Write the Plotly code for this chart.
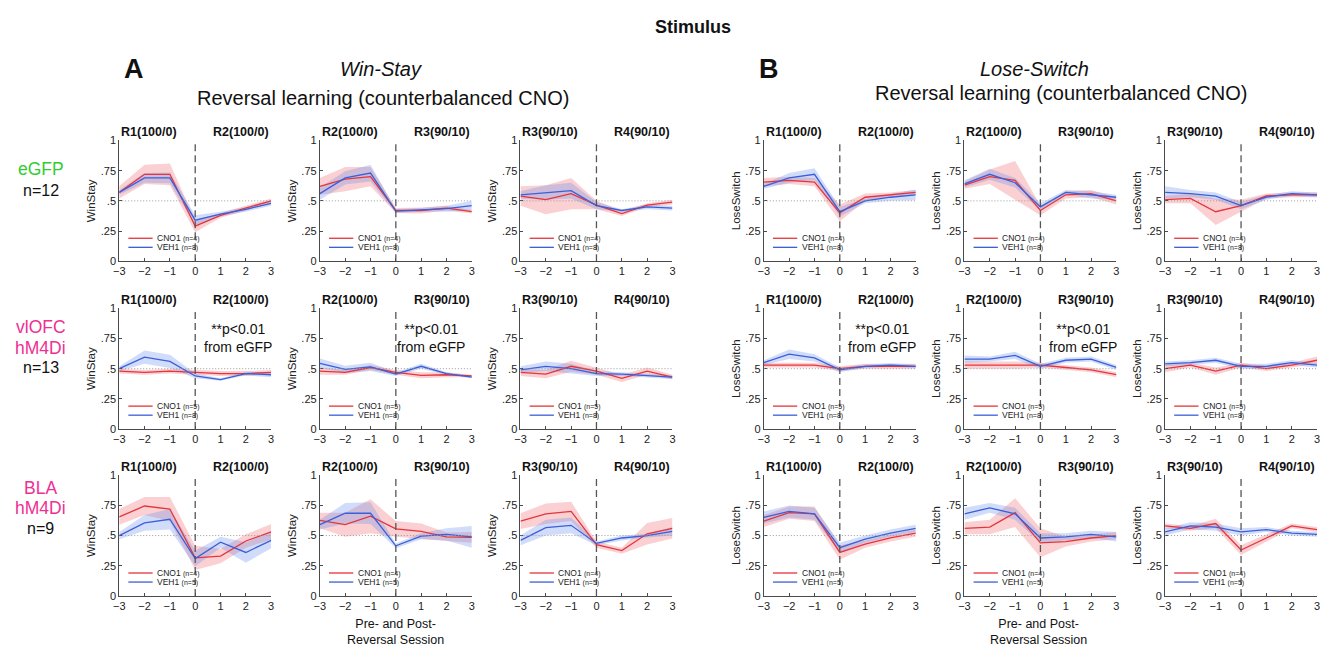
import plotly.graph_objects as go

# ---------------- data ----------------
SESSIONS = [-3, -2, -1, 0, 1, 2, 3]
Y_TICKS = [0, 0.25, 0.5, 0.75, 1]
Y_TICK_LABELS = ["0", ".25", ".5", ".75", "1"]
MEASURES = ["WinStay", "LoseSwitch"]
GROUP_LABELS = [["eGFP"], ["vlOFC", "hM4Di"], ["BLA", "hM4Di"]]
GROUP_N = [12, 13, 9]
CNO_N = [4, 5, 4]
VEH_N = [8, 8, 5]
TRANSITIONS = [("R1(100/0)", "R2(100/0)"), ("R2(100/0)", "R3(90/10)"), ("R3(90/10)", "R4(90/10)")]

# Win-Stay, each list holds the three reversal transitions
WS_EGFP_CNO = [[0.57, 0.72, 0.72, 0.29, 0.38, 0.44, 0.50],
               [0.62, 0.68, 0.70, 0.42, 0.42, 0.44, 0.41],
               [0.54, 0.51, 0.56, 0.465, 0.395, 0.465, 0.49]]
WS_EGFP_CNO_SEM = [[0.05, 0.08, 0.09, 0.05, 0.02, 0.02, 0.02],
                   [0.07, 0.10, 0.08, 0.02, 0.025, 0.02, 0.015],
                   [0.08, 0.12, 0.13, 0.035, 0.02, 0.015, 0.02]]
WS_EGFP_VEH = [[0.57, 0.69, 0.69, 0.34, 0.39, 0.43, 0.48],
               [0.56, 0.69, 0.73, 0.415, 0.425, 0.435, 0.46],
               [0.55, 0.57, 0.585, 0.46, 0.42, 0.45, 0.44]]
WS_EGFP_VEH_SEM = [[0.02, 0.04, 0.045, 0.04, 0.02, 0.02, 0.02],
                   [0.05, 0.055, 0.07, 0.015, 0.015, 0.025, 0.04],
                   [0.03, 0.06, 0.065, 0.03, 0.01, 0.02, 0.02]]

WS_VLOFC_CNO = [[0.48, 0.47, 0.48, 0.47, 0.46, 0.46, 0.47],
                [0.48, 0.47, 0.51, 0.47, 0.445, 0.45, 0.44],
                [0.47, 0.455, 0.52, 0.48, 0.42, 0.48, 0.43]]
WS_VLOFC_CNO_SEM = [[0.02, 0.02, 0.02, 0.02, 0.02, 0.02, 0.02],
                    [0.03, 0.02, 0.02, 0.02, 0.025, 0.02, 0.01],
                    [0.03, 0.035, 0.045, 0.03, 0.03, 0.03, 0.02]]
WS_VLOFC_VEH = [[0.50, 0.595, 0.56, 0.44, 0.41, 0.46, 0.45],
                [0.545, 0.495, 0.515, 0.455, 0.52, 0.46, 0.43],
                [0.49, 0.52, 0.50, 0.46, 0.455, 0.445, 0.43]]
WS_VLOFC_VEH_SEM = [[0.02, 0.055, 0.055, 0.02, 0.01, 0.015, 0.02],
                    [0.04, 0.03, 0.035, 0.015, 0.02, 0.01, 0.01],
                    [0.03, 0.04, 0.04, 0.02, 0.015, 0.015, 0.015]]

WS_BLA_CNO = [[0.655, 0.745, 0.72, 0.315, 0.33, 0.455, 0.53],
              [0.625, 0.59, 0.66, 0.555, 0.535, 0.49, 0.485],
              [0.62, 0.68, 0.70, 0.425, 0.375, 0.515, 0.56]]
WS_BLA_CNO_SEM = [[0.065, 0.075, 0.10, 0.10, 0.06, 0.055, 0.065],
                  [0.065, 0.10, 0.14, 0.065, 0.065, 0.035, 0.045],
                  [0.065, 0.085, 0.08, 0.025, 0.025, 0.09, 0.085]]
WS_BLA_VEH = [[0.50, 0.605, 0.635, 0.31, 0.445, 0.36, 0.46],
              [0.59, 0.685, 0.685, 0.415, 0.495, 0.51, 0.49],
              [0.46, 0.565, 0.585, 0.435, 0.48, 0.50, 0.535]]
WS_BLA_VEH_SEM = [[0.03, 0.065, 0.085, 0.065, 0.045, 0.085, 0.065],
                  [0.04, 0.085, 0.09, 0.02, 0.025, 0.05, 0.09],
                  [0.04, 0.065, 0.065, 0.015, 0.02, 0.015, 0.035]]

# Lose-Switch
LS_EGFP_CNO = [[0.655, 0.67, 0.655, 0.40, 0.53, 0.55, 0.57],
               [0.63, 0.70, 0.67, 0.42, 0.55, 0.56, 0.50],
               [0.51, 0.52, 0.41, 0.46, 0.54, 0.55, 0.55]]
LS_EGFP_CNO_SEM = [[0.035, 0.03, 0.035, 0.07, 0.03, 0.02, 0.02],
                   [0.03, 0.06, 0.16, 0.04, 0.03, 0.03, 0.03],
                   [0.03, 0.04, 0.11, 0.05, 0.02, 0.02, 0.02]]
LS_EGFP_VEH = [[0.62, 0.69, 0.72, 0.41, 0.50, 0.53, 0.55],
               [0.64, 0.72, 0.65, 0.45, 0.57, 0.55, 0.53],
               [0.57, 0.56, 0.54, 0.46, 0.53, 0.56, 0.55]]
LS_EGFP_VEH_SEM = [[0.02, 0.04, 0.05, 0.04, 0.02, 0.03, 0.045],
                   [0.03, 0.045, 0.04, 0.03, 0.02, 0.03, 0.02],
                   [0.05, 0.03, 0.03, 0.03, 0.02, 0.02, 0.02]]

LS_VLOFC_CNO = [[0.53, 0.53, 0.53, 0.50, 0.52, 0.52, 0.52],
                [0.53, 0.53, 0.53, 0.53, 0.51, 0.49, 0.45],
                [0.50, 0.53, 0.48, 0.53, 0.50, 0.53, 0.57]]
LS_VLOFC_CNO_SEM = [[0.02, 0.02, 0.02, 0.02, 0.02, 0.02, 0.02],
                    [0.03, 0.03, 0.03, 0.02, 0.02, 0.02, 0.02],
                    [0.03, 0.02, 0.03, 0.02, 0.02, 0.02, 0.03]]
LS_VLOFC_VEH = [[0.55, 0.62, 0.59, 0.49, 0.52, 0.53, 0.52],
                [0.58, 0.58, 0.61, 0.52, 0.57, 0.58, 0.51],
                [0.54, 0.55, 0.57, 0.52, 0.52, 0.55, 0.53]]
LS_VLOFC_VEH_SEM = [[0.02, 0.04, 0.03, 0.02, 0.015, 0.015, 0.015],
                    [0.03, 0.02, 0.03, 0.02, 0.02, 0.02, 0.02],
                    [0.02, 0.02, 0.02, 0.02, 0.02, 0.02, 0.02]]

LS_BLA_CNO = [[0.62, 0.69, 0.68, 0.36, 0.43, 0.48, 0.52],
              [0.56, 0.57, 0.69, 0.44, 0.45, 0.48, 0.50],
              [0.58, 0.56, 0.60, 0.38, 0.48, 0.58, 0.55]]
LS_BLA_CNO_SEM = [[0.05, 0.05, 0.06, 0.06, 0.03, 0.03, 0.03],
                  [0.05, 0.06, 0.12, 0.12, 0.04, 0.03, 0.03],
                  [0.02, 0.02, 0.04, 0.04, 0.03, 0.02, 0.02]]
LS_BLA_VEH = [[0.65, 0.70, 0.68, 0.40, 0.47, 0.52, 0.56],
              [0.68, 0.73, 0.68, 0.48, 0.49, 0.51, 0.49],
              [0.53, 0.58, 0.57, 0.53, 0.55, 0.52, 0.51]]
LS_BLA_VEH_SEM = [[0.05, 0.05, 0.05, 0.04, 0.03, 0.03, 0.03],
                  [0.05, 0.04, 0.05, 0.04, 0.03, 0.03, 0.04],
                  [0.03, 0.03, 0.03, 0.03, 0.02, 0.02, 0.02]]

DATA = {
    (0, 0): (WS_EGFP_CNO, WS_EGFP_CNO_SEM, WS_EGFP_VEH, WS_EGFP_VEH_SEM),
    (0, 1): (WS_VLOFC_CNO, WS_VLOFC_CNO_SEM, WS_VLOFC_VEH, WS_VLOFC_VEH_SEM),
    (0, 2): (WS_BLA_CNO, WS_BLA_CNO_SEM, WS_BLA_VEH, WS_BLA_VEH_SEM),
    (1, 0): (LS_EGFP_CNO, LS_EGFP_CNO_SEM, LS_EGFP_VEH, LS_EGFP_VEH_SEM),
    (1, 1): (LS_VLOFC_CNO, LS_VLOFC_CNO_SEM, LS_VLOFC_VEH, LS_VLOFC_VEH_SEM),
    (1, 2): (LS_BLA_CNO, LS_BLA_CNO_SEM, LS_BLA_VEH, LS_BLA_VEH_SEM),
}
SIG_PANELS = [(0, 1, 0), (0, 1, 1), (1, 1, 0), (1, 1, 1)]

# ---------------- layout geometry / style ----------------
W, H = 1325, 652
COL_LEFT = [[114, 316, 518], [763, 965, 1167]]
PW = 153
ROW_TOP = [137, 308, 478]
PH = 123
FONT = "Liberation Sans, Arial, Helvetica, sans-serif"
RED = "#e5343b"
RED_FILL = "rgba(240,110,115,0.32)"
BLUE = "#3b5fd9"
BLUE_FILL = "rgba(110,145,235,0.32)"
AX_COL = "#4a4a4a"
GROUP_COLORS = ["#33cc33", "#ee2f93", "#ee2f93"]

fig = go.Figure()
layout = {}
shapes = []
annots = []


def ref(k):
    return ("" if k == 1 else str(k))


for m in range(2):
    for g in range(3):
        cno, cno_sem, veh, veh_sem = DATA[(m, g)]
        for t in range(3):
            k = m * 9 + g * 3 + t + 1
            r = ref(k)
            xa, ya = "x" + r, "y" + r
            for mean, sem, col, fill in ((cno[t], cno_sem[t], RED, RED_FILL),
                                         (veh[t], veh_sem[t], BLUE, BLUE_FILL)):
                up = [a + b for a, b in zip(mean, sem)]
                lo = [a - b for a, b in zip(mean, sem)]
                fig.add_trace(go.Scatter(x=SESSIONS + SESSIONS[::-1], y=up + lo[::-1],
                                         fill="toself", fillcolor=fill, line=dict(width=0),
                                         mode="lines", hoverinfo="skip", showlegend=False,
                                         xaxis=xa, yaxis=ya))
            for mean, col in ((cno[t], RED), (veh[t], BLUE)):
                fig.add_trace(go.Scatter(x=SESSIONS, y=mean, mode="lines",
                                         line=dict(color=col, width=1.3),
                                         showlegend=False, xaxis=xa, yaxis=ya))
            l = COL_LEFT[m][t]
            top = ROW_TOP[g]
            layout["xaxis" + r] = dict(
                domain=[l / W, (l + PW) / W], range=[-3, 3], anchor=ya,
                tickvals=SESSIONS, showline=True, linecolor=AX_COL, linewidth=1,
                ticks="inside", ticklen=3, tickcolor=AX_COL, showgrid=False,
                zeroline=False, tickfont=dict(size=11, color="#222"))
            layout["yaxis" + r] = dict(
                domain=[1 - (top + PH) / H, 1 - top / H], range=[0, 1], anchor=xa,
                tickvals=Y_TICKS, ticktext=Y_TICK_LABELS, showline=True,
                linecolor=AX_COL, linewidth=1, ticks="inside", ticklen=3,
                tickcolor=AX_COL, showgrid=False, zeroline=False,
                tickfont=dict(size=11, color="#222"),
                title=dict(text=MEASURES[m], font=dict(size=11.5, color="#222"), standoff=2))
            shapes.append(dict(type="line", xref=xa, yref=ya, x0=-3, x1=3, y0=0.5, y1=0.5,
                               line=dict(color="#9a9a9a", width=1, dash="1px,2px")))
            shapes.append(dict(type="line", xref=xa, yref=ya, x0=0, x1=0, y0=0, y1=1,
                               line=dict(color="#555", width=1.3, dash="7px,4px")))
            annots.append(dict(xref=xa + " domain", yref=ya + " domain", x=0, y=1,
                               xanchor="left", yanchor="bottom", showarrow=False, yshift=-1,
                               text="<b>" + TRANSITIONS[t][0] + "</b>",
                               font=dict(size=12.5, color="#111")))
            annots.append(dict(xref=xa + " domain", yref=ya + " domain", x=1, y=1,
                               xanchor="right", yanchor="bottom", showarrow=False, yshift=-1,
                               text="<b>" + TRANSITIONS[t][1] + "</b>",
                               font=dict(size=12.5, color="#111")))
            for yy, col, name, n in ((0.19, RED, "CNO1", CNO_N[g]), (0.115, BLUE, "VEH1", VEH_N[g])):
                shapes.append(dict(type="line", xref=xa + " domain", yref=ya + " domain",
                                   x0=0.06, x1=0.22, y0=yy, y1=yy,
                                   line=dict(color=col, width=1.3)))
                annots.append(dict(xref=xa + " domain", yref=ya + " domain", x=0.235, y=yy,
                                   xanchor="left", yanchor="middle", showarrow=False,
                                   text=name + " <span style='font-size:7px'>(n=%d)</span>" % n,
                                   font=dict(size=8.5, color="#222")))
            if (m, g, t) in SIG_PANELS:
                xs = 0.78 if not (m == 0 and t == 1) else 0.73
                annots.append(dict(xref=xa + " domain", yref=ya + " domain", x=xs, y=0.755,
                                   xanchor="center", yanchor="middle", showarrow=False,
                                   text="**p<0.01<br>from eGFP",
                                   font=dict(size=14, color="#111")))

ROW_LABEL_Y = [[166, 188], [327, 348, 368], [491, 511, 532]]
for g in range(3):
    lines = GROUP_LABELS[g] + ["n=%d" % GROUP_N[g]]
    for i, txt in enumerate(lines):
        is_n = i == len(lines) - 1
        annots.append(dict(xref="paper", yref="paper", x=35 / W, y=1 - ROW_LABEL_Y[g][i] / H,
                           xanchor="center", yanchor="middle", showarrow=False, text=txt,
                           font=dict(size=16 if is_n else 17.5,
                                     color="#111" if is_n else GROUP_COLORS[g])))


def paper_text(x, y, text, size, color="#111"):
    annots.append(dict(xref="paper", yref="paper", x=x / W, y=1 - y / H, xanchor="center",
                       yanchor="middle", showarrow=False, text=text,
                       font=dict(size=size, color=color)))


paper_text(692, 21, "<b>Stimulus</b>", 18)
paper_text(129, 64, "<b>A</b>", 27)
paper_text(378, 64, "<i>Win-Stay</i>", 20)
paper_text(380, 94, "Reversal learning (counterbalanced CNO)", 20)
paper_text(768, 64, "<b>B</b>", 27)
paper_text(1036, 64, "<i>Lose-Switch</i>", 20)
paper_text(1062, 89, "Reversal learning (counterbalanced CNO)", 20)
for xc in (392, 1040):
    annots.append(dict(xref="paper", yref="paper", x=xc / W, y=1 - 620 / H, xanchor="center",
                       yanchor="top", showarrow=False,
                       text="Pre- and Post-<br>Reversal Session",
                       font=dict(size=12.5, color="#111")))

layout.update(dict(width=W, height=H, margin=dict(l=0, r=0, t=0, b=0),
                   paper_bgcolor="white", plot_bgcolor="white",
                   font=dict(family=FONT, color="#111"),
                   shapes=shapes, annotations=annots, showlegend=False))
fig.update_layout(**layout)
fig.write_html("out.html", config={"displayModeBar": False},
               post_script="document.body.style.margin='0';document.body.style.overflow='hidden';")
